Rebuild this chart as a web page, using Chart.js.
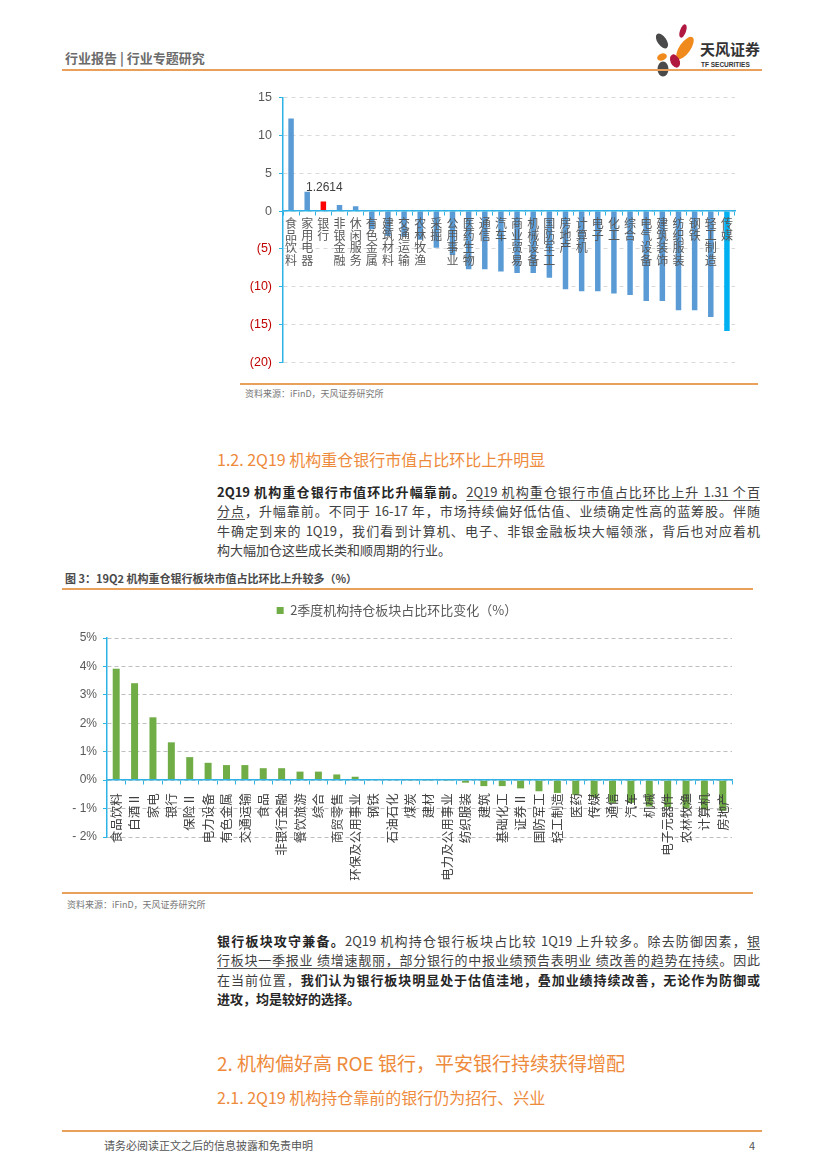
<!DOCTYPE html>
<html><head><meta charset="utf-8">
<script src="https://cdn.jsdelivr.net/npm/chart.js@4.4.0/dist/chart.umd.min.js"></script>
<style>
html,body{margin:0;padding:0}
body{width:827px;height:1170px;background:#fff;position:relative;font-family:"Noto Sans CJK SC","Liberation Sans",sans-serif;overflow:hidden;color:#404040}
.abs{position:absolute}
.rule{position:absolute;height:2px;background:#E9A05A}
.para{position:absolute;left:217px;width:543px;font-size:13px;line-height:19.3px;color:#404040}
.para div{height:19.3px}
.j{text-align:justify;text-align-last:justify}
.para b{color:#262626}
.para u{text-underline-offset:3px;text-decoration-color:#555}
.h{position:absolute;left:217px;color:#EE8A3B;white-space:nowrap}
.src{position:absolute;font-size:9px;color:#777;white-space:nowrap}
</style>
</head><body>

<!-- header -->
<div class="abs" style="left:65px;top:48px;font-size:13px;font-weight:bold;color:#6b6b6b;white-space:nowrap">行业报告 | 行业专题研究</div>
<svg class="abs" style="left:648px;top:22px" width="55" height="56">
  <ellipse cx="35" cy="9" rx="3" ry="7" fill="#B01840" transform="rotate(20 35 9)"/>
  <ellipse cx="37" cy="26" rx="5.5" ry="13" fill="#F08A1C" transform="rotate(35 37 26)"/>
  <ellipse cx="14" cy="19" rx="4.5" ry="8.5" fill="#4a4a4a" transform="rotate(-35 14 19)"/>
  <ellipse cx="14" cy="35" rx="5" ry="3.5" fill="#F08A1C" transform="rotate(-20 14 35)"/>
  <ellipse cx="27" cy="39" rx="4.5" ry="7" fill="#B01840" transform="rotate(-25 27 39)"/>
  <ellipse cx="15" cy="47" rx="5.5" ry="7.5" fill="#4a4a4a"/>
</svg>
<div class="abs" style="left:700px;top:41px;font-size:15px;font-weight:bold;color:#333;white-space:nowrap;line-height:16px">天风证券</div>
<div class="abs" style="left:701px;top:61px;font-size:6.5px;color:#333;white-space:nowrap;font-family:'Liberation Sans',sans-serif;font-weight:bold">TF SECURITIES</div>
<div class="rule" style="left:62px;top:69px;width:700px"></div>

<!-- chart 1 -->
<div class="abs" style="left:240px;top:88px;width:520px;height:292px"><canvas id="c1" width="520" height="292"></canvas></div>
<div class="rule" style="left:240px;top:383px;width:518px;height:1.5px"></div>
<div class="src" style="left:245px;top:387px">资料来源：iFinD，天风证券研究所</div>

<div class="h" style="top:449px;font-size:16px;line-height:20px">1.2. 2Q19 机构重仓银行市值占比环比上升明显</div>

<div class="para" style="top:482px">
  <div class="j"><b>2Q19 机构重仓银行市值环比升幅靠前。</b><u>2Q19 机构重仓银行市值占比环比上升 1.31 个百</u></div>
  <div class="j"><u>分点</u>，升幅靠前。不同于 16-17 年，市场持续偏好低估值、业绩确定性高的蓝筹股。伴随</div>
  <div class="j">牛确定到来的 1Q19，我们看到计算机、电子、非银金融板块大幅领涨，背后也对应着机</div>
  <div>构大幅加仓这些成长类和顺周期的行业。</div>
</div>

<!-- chart 2 -->
<div class="abs" style="left:65px;top:570px;font-size:11px;font-weight:bold;color:#4a4a4a;white-space:nowrap;line-height:16px">图 3：19Q2 机构重仓银行板块市值占比环比上升较多（%）</div>
<div class="rule" style="left:62px;top:588px;width:691px;height:1.5px"></div>
<div class="abs" style="left:62px;top:594px;width:690px;height:296px"><canvas id="c2" width="690" height="296"></canvas></div>
<div class="rule" style="left:62px;top:892px;width:691px;height:1.5px"></div>
<div class="src" style="left:67px;top:898px">资料来源：iFinD，天风证券研究所</div>

<div class="para" style="top:931px;line-height:19.2px">
  <div class="j"><b>银行板块攻守兼备。</b>2Q19 机构持仓银行板块占比较 1Q19 上升较多。除去防御因素，<u>银</u></div>
  <div class="j"><u>行板块一季报业 绩增速靓丽，部分银行的中报业绩预告表明业 绩改善的趋势在持续</u>。因此</div>
  <div class="j">在当前位置，<b>我们认为银行板块明显处于估值洼地，叠加业绩持续改善，无论作为防御或</b></div>
  <div><b>进攻，均是较好的选择。</b></div>
</div>

<div class="h" style="top:1051px;font-size:19px;line-height:24px">2. 机构偏好高 ROE 银行，平安银行持续获得增配</div>
<div class="h" style="top:1086px;font-size:16px;line-height:22px">2.1. 2Q19 机构持仓靠前的银行仍为招行、兴业</div>

<!-- footer -->
<div class="rule" style="left:62px;top:1130px;width:700px"></div>
<div class="abs" style="left:104px;top:1137px;font-size:11px;color:#555;white-space:nowrap">请务必阅读正文之后的信息披露和免责申明</div>
<div class="abs" style="left:749px;top:1137px;font-size:11px;color:#555">4</div>

<script>
// ---------- data ----------
const cats1 = ['食品饮料','家用电器','银行','非银金融','休闲服务','有色金属','建筑材料','交通运输','农林牧渔','采掘','公用事业','医药生物','通信','汽车','商业贸易','机械设备','国防军工','房地产','计算机','电子','化工','综合','电气设备','建筑装饰','纺织服装','钢铁','轻工制造','传媒'];
const vals1 = [12.25, 2.55, 1.2614, 0.8, 0.65, -2.4, -3.3, -3.4, -3.8, -4.85, -5.8, -7.7, -7.7, -8.0, -8.2, -8.2, -8.8, -10.35, -10.6, -10.6, -10.9, -11.1, -11.9, -11.9, -13.1, -13.1, -14.0, -15.85];
const ticks1 = [15, 10, 5, 0, -5, -10, -15, -20];

const cats2 = ['食品饮料','白酒Ⅱ','家电','银行','保险Ⅱ','电力设备','有色金属','交通运输','食品','非银行金融','餐饮旅游','综合','商贸零售','环保及公用事业','钢铁','石油石化','煤炭','建材','电力及公用事业','纺织服装','建筑','基础化工','证券Ⅱ','国防军工','轻工制造','医药','传媒','通信','汽车','机械','电子元器件','农林牧渔','计算机','房地产'];
const vals2 = [3.92, 3.41, 2.21, 1.33, 0.81, 0.61, 0.53, 0.53, 0.42, 0.42, 0.30, 0.30, 0.20, 0.12, 0.01, 0.005, -0.01, -0.01, -0.03, -0.09, -0.21, -0.21, -0.29, -0.39, -0.45, -0.52, -0.6, -0.8, -0.8, -0.93, -0.95, -1.0, -1.03, -1.08];
const ticks2 = [5, 4, 3, 2, 1, 0, -1, -2];
const series2Name = '2季度机构持仓板块占比环比变化（%）';

// ---------- charts ----------
Chart.defaults.font.family = '"Noto Sans CJK SC","Liberation Sans",sans-serif';
Chart.defaults.animation = false;
const CYAN = '#2EB3E8';

const barLabel = {
  id: 'barLabel',
  afterDatasetsDraw(chart) {
    const i = cats1.indexOf('银行');
    const el = chart.getDatasetMeta(0).data[i];
    const ctx = chart.ctx;
    ctx.save();
    ctx.font = '12px "Liberation Sans", sans-serif';
    ctx.fillStyle = '#404040';
    ctx.textAlign = 'center';
    ctx.textBaseline = 'bottom';
    ctx.fillText(String(vals1[i]), el.x + 1, el.y - 8);
    ctx.restore();
  }
};

new Chart(document.getElementById('c1'), {
  type: 'bar',
  data: {
    labels: cats1.map(s => s.split('')),
    datasets: [{
      data: vals1,
      backgroundColor: ctx => ({'银行': '#FF0000', '传媒': '#00B0F0'})[cats1[ctx.dataIndex]] || '#5B9BD5',
      barPercentage: 0.34,
      categoryPercentage: 1
    }]
  },
  plugins: [barLabel],
  options: {
    responsive: false,
    devicePixelRatio: 1,
    layout: { padding: { left: 0, right: 25, top: 9.7, bottom: 17.7 } },
    plugins: { legend: { display: false }, tooltip: { enabled: false } },
    scales: {
      x: {
        position: { y: 0 },
        grid: { display: true, drawOnChartArea: false, drawTicks: true, tickLength: 4, tickColor: CYAN },
        border: { display: true, color: CYAN, width: 1.5, z: 1 },
        ticks: { z: 1, autoSkip: false, minRotation: 0, maxRotation: 0, padding: 2, color: '#595959',
                 font: { size: 12, lineHeight: 1.02 } }
      },
      y: {
        min: -20, max: 15,
        afterFit(s) { s.width = 43; s.paddingTop = 0; s.paddingBottom = 0; },
        afterBuildTicks(s) { s.ticks = ticks1.map(v => ({ value: v })); },
        grid: { color: '#D9D9D9', drawTicks: true, tickLength: 4, tickColor: CYAN },
        border: { display: true, color: CYAN, width: 1.5, dash: [4, 4] },
        ticks: {
          padding: 7,
          font: { size: 12.5, family: '"Liberation Sans", sans-serif' },
          color: c => c.tick.value < 0 ? '#C00000' : '#595959',
          callback: v => v < 0 ? '(' + Math.abs(v) + ')' : String(v)
        }
      }
    }
  }
});

const legendGap = {
  id: 'legendGap',
  beforeInit(chart) {
    const orig = chart.legend.fit;
    chart.legend.fit = function () { orig.call(this); this.height += 11; };
  }
};

new Chart(document.getElementById('c2'), {
  type: 'bar',
  data: {
    labels: cats2,
    datasets: [{
      label: series2Name,
      data: vals2,
      backgroundColor: '#70AD47',
      barPercentage: 0.38,
      categoryPercentage: 1
    }]
  },
  plugins: [legendGap],
  options: {
    responsive: false,
    devicePixelRatio: 1,
    layout: { padding: { left: 0, right: 20, top: 0, bottom: 53 } },
    plugins: {
      legend: {
        display: true, position: 'top',
        labels: { boxWidth: 7, boxHeight: 7, padding: 10, color: '#595959', font: { size: 13 } }
      },
      tooltip: { enabled: false }
    },
    scales: {
      x: {
        position: { y: 0 },
        grid: { display: true, drawOnChartArea: false, drawTicks: true, tickLength: 4, tickColor: CYAN },
        border: { display: true, color: CYAN, width: 1.5, z: 1 },
        ticks: { z: 1, autoSkip: false, minRotation: 90, maxRotation: 90, padding: 9, color: '#404040',
                 font: { size: 12.5 } }
      },
      y: {
        min: -2, max: 5,
        afterFit(s) { s.width = 45; },
        afterBuildTicks(s) { s.ticks = ticks2.map(v => ({ value: v })); },
        grid: { color: '#BFBFBF', drawTicks: true, tickLength: 4, tickColor: CYAN },
        border: { display: true, color: CYAN, width: 1.5, dash: [4, 3] },
        ticks: {
          padding: 6,
          font: { size: 12, family: '"Liberation Sans", sans-serif' },
          color: '#595959',
          callback: v => v < 0 ? '- ' + Math.abs(v) + '%' : v + '%'
        }
      }
    }
  }
});
</script>
</body></html>
